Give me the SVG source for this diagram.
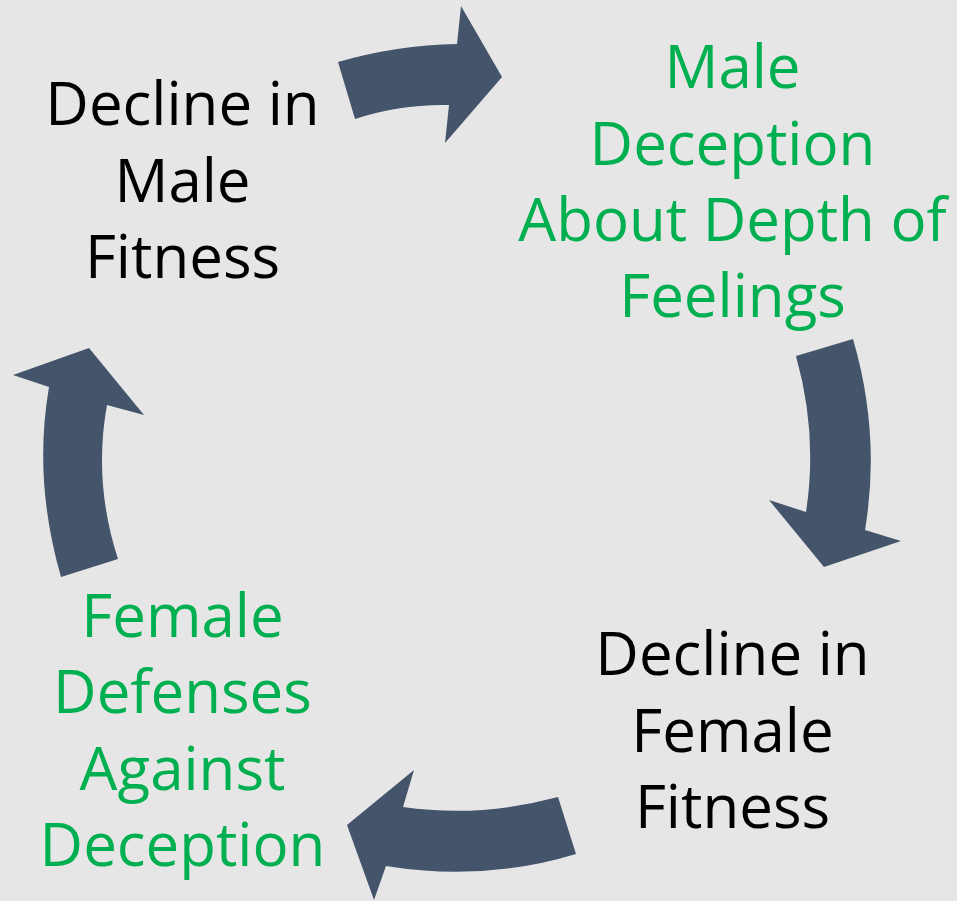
<svg xmlns="http://www.w3.org/2000/svg" width="957" height="901" viewBox="0 0 957 901">
  <style>
    .arrow { fill: #44546a; }
    .lbl { font-family: "Open Sans", "Liberation Sans", sans-serif; text-anchor: middle; }
    .black { fill: #000000; font-size: 60px; }
    .green { fill: #00b050; font-size: 60px; }
  </style>
  <rect x="0" y="0" width="957" height="901" fill="#e7e6e6"/>
  <g id="connectors">
    <path class="arrow" d="M338,62 Q397,45 457,44 L461,6 L502,77 L445,143 L449,105 Q400,104 355,119 Z"/>
    <path class="arrow" d="M796,356 L853,339 Q881,435 865,530 L901,541 L824,567 L769,500 L806,512 Q818,434 796,356 Z"/>
    <path class="arrow" d="M558,797 L576,854 Q484,882 386,866 L374,900 L347,825 L414,770 L403,807 Q480,818 558,797 Z"/>
    <path class="arrow" d="M61,577 L118,559 Q93,482 107,405 L144,415 L89,348 L13,375 L49,387 Q33,480 61,577 Z"/>
  </g>
  <g id="node-male-fitness">
    <text class="lbl black" x="182.5" y="125">Decline in</text>
    <text class="lbl black" x="182.5" y="201.7">Male</text>
    <text class="lbl black" x="182.5" y="278.3">Fitness</text>
  </g>
  <g id="node-male-deception">
    <text class="lbl green" x="732.5" y="88.3">Male</text>
    <text class="lbl green" x="732.5" y="165">Deception</text>
    <text class="lbl green" x="732.5" y="240.7">About Depth of</text>
    <text class="lbl green" x="732.5" y="316.7">Feelings</text>
  </g>
  <g id="node-female-fitness">
    <text class="lbl black" x="732.5" y="675">Decline in</text>
    <text class="lbl black" x="732.5" y="751.7">Female</text>
    <text class="lbl black" x="732.5" y="828.3">Fitness</text>
  </g>
  <g id="node-female-defenses">
    <text class="lbl green" x="182.5" y="637.3">Female</text>
    <text class="lbl green" x="182.5" y="713.3">Defenses</text>
    <text class="lbl green" x="182.5" y="790">Against</text>
    <text class="lbl green" x="182.5" y="866">Deception</text>
  </g>
</svg>
